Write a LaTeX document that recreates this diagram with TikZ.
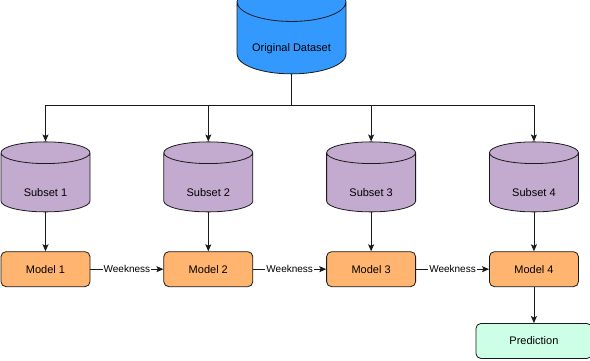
\documentclass[tikz,border=0pt]{standalone}
\usepackage{fontspec}
\setmainfont{Liberation Sans}
\usetikzlibrary{arrows.meta,positioning,shapes.geometric,calc}
\definecolor{dataBlue}{HTML}{3399FF}
\definecolor{subPurple}{HTML}{C3ABD0}
\definecolor{modelOrange}{HTML}{FFB570}
\definecolor{predGreen}{HTML}{CCFFE6}
\definecolor{lineBlack}{HTML}{1A1A1A}

\begin{document}
\begin{tikzpicture}[
  x=1pt, y=1pt,
  node distance=39pt and 72pt,
  db/.style={cylinder, shape border rotate=90, aspect=0.5, draw=lineBlack, line width=0.8pt, minimum height=70pt, minimum width=89pt, inner sep=0pt, text height=30pt, text depth=2.3pt, font=\fontsize{11}{13}\selectfont},
  model/.style={rectangle, rounded corners=5pt, draw=lineBlack, line width=0.8pt, fill=modelOrange, minimum width=89pt, minimum height=35pt, font=\fontsize{11}{13}\selectfont},
  arr/.style={-{Stealth[length=7pt,width=6pt,inset=1.5pt]}, line width=0.8pt, draw=lineBlack},
  weak/.style={font=\fontsize{10}{12}\selectfont, fill=white, inner sep=1pt}
]
\useasboundingbox (0,0) rectangle (590,-360);

\node[db, fill=dataBlue, minimum width=109pt] (data) at (291.5,-38) {Original Dataset};
\node[db, fill=subPurple] (sub1) at (45.5,-182.5) {Subset 1};
\node[db, fill=subPurple, right=73pt of sub1] (sub2) {Subset 2};
\node[db, fill=subPurple, right=73pt of sub2] (sub3) {Subset 3};
\node[db, fill=subPurple, right=73pt of sub3] (sub4) {Subset 4};

\node[model, below=of sub1] (mod1) {Model 1};
\node[model, below=of sub2] (mod2) {Model 2};
\node[model, below=of sub3] (mod3) {Model 3};
\node[model, below=of sub4] (mod4) {Model 4};
\node[model, fill=predGreen, minimum width=116pt, below=36pt of mod4] (pred) {Prediction};

\coordinate (bus) at (data.south |- 0,-105);
\draw[line width=0.8pt, draw=lineBlack] (data.south) -- (bus);
\foreach \s in {sub1,sub2,sub3,sub4}
  \draw[arr] (bus) -| (\s.north);

\foreach \i in {1,2,3,4}
  \draw[arr] (sub\i) -- (mod\i);
\foreach \i/\j in {1/2,2/3,3/4}
  \draw[arr] (mod\i) -- node[weak]{Weekness} (mod\j);
\draw[arr] (mod4) -- (pred);
\end{tikzpicture}
\end{document}
